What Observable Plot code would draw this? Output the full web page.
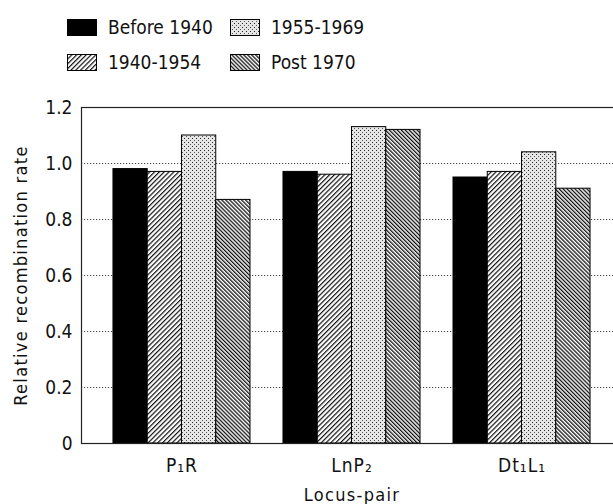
<!DOCTYPE html>
<html>
<head>
<meta charset="utf-8">
<script src="https://cdn.jsdelivr.net/npm/d3@7"></script>
<script src="https://cdn.jsdelivr.net/npm/@observablehq/plot@0.6"></script>
<style>
  html, body { margin: 0; padding: 0; background: #fff; overflow: hidden; }
  #legend { position: relative; height: 90px; width: 613px; font-family: "Liberation Sans Narrow", "DejaVu Sans Condensed", sans-serif; font-size: 19px; color: #111; }
  .item { position: absolute; display: flex; align-items: center; }
  .item svg { margin-right: 11px; }
  #chart g[aria-label="text"] text { letter-spacing: 1.3px; }
  #chart g[aria-label^="x-axis"] text { letter-spacing: 1px; }
</style>
</head>
<body>
<svg width="0" height="0" style="position:absolute">
  <defs>
    <pattern id="hatchA" patternUnits="userSpaceOnUse" width="3.4" height="10" patternTransform="rotate(45)">
      <rect width="3.4" height="10" fill="#fff"></rect>
      <rect width="1.2" height="10" fill="#111"></rect>
    </pattern>
    <pattern id="hatchB" patternUnits="userSpaceOnUse" width="2.8" height="10" patternTransform="rotate(-45)">
      <rect width="2.8" height="10" fill="#fff"></rect>
      <rect width="1.3" height="10" fill="#111"></rect>
    </pattern>
    <pattern id="dots" patternUnits="userSpaceOnUse" width="4" height="4">
      <rect width="4" height="4" fill="#e6e6e6"></rect>
      <rect x="0" y="0" width="1" height="1" fill="#222"></rect>
      <rect x="2" y="2" width="1" height="1" fill="#555"></rect>
    </pattern>
  </defs>
</svg>
<div id="legend"></div>
<div id="chart"></div>
<script>
// ---- data ----
const loci = ["P\u2081R", "LnP\u2082", "Dt\u2081L\u2081"];
const periods = ["Before 1940", "1940-1954", "1955-1969", "Post 1970"];
const before1940 = [0.98, 0.97, 0.95];
const p1940to1954 = [0.97, 0.96, 0.97];
const p1955to1969 = [1.10, 1.13, 1.04];
const post1970 = [0.87, 1.12, 0.91];
const yTicks = [0, 0.2, 0.4, 0.6, 0.8, 1.0, 1.2];
const yLabel = "Relative recombination rate";
const xLabel = "Locus-pair";

const seriesValues = [before1940, p1940to1954, p1955to1969, post1970];
const fills = ["#000", "url(#hatchA)", "url(#dots)", "url(#hatchB)"];

const rows = [];
periods.forEach((p, i) => loci.forEach((l, j) => rows.push({locus: l, period: p, value: seriesValues[i][j]})));

// ---- legend (column-major, 2 rows) ----
const legend = document.getElementById("legend");
periods.forEach((p, i) => {
  const col = Math.floor(i / 2), row = i % 2;
  const item = document.createElement("div");
  item.className = "item";
  item.style.left = (67 + col * 163) + "px";
  item.style.top = (16 + row * 35) + "px";
  item.innerHTML = `<svg width="30" height="17"><rect x="0.5" y="0.5" width="29" height="16" fill="${fills[i]}" stroke="#000" stroke-width="1"></rect></svg><span>${p}</span>`;
  legend.appendChild(item);
});

// ---- chart ----
const width = 613, height = 414;
const marginLeft = 81, marginRight = -9, marginTop = 17, marginBottom = 61;
const paddingInner = 0.194, paddingOuter = 0.188;
const rangeW = width - marginRight - marginLeft;
const bw = rangeW / (loci.length - paddingInner + 2 * paddingOuter) * (1 - paddingInner);
const q = bw / periods.length;

const bars = periods.map((p, i) => Plot.barY(rows.filter(d => d.period === p), {
  x: "locus", y: "value", fill: fills[i], stroke: "#000", strokeWidth: 1,
  insetLeft: i * q, insetRight: (periods.length - 1 - i) * q
}));

const chart = Plot.plot({
  width, height, marginLeft, marginRight, marginTop, marginBottom,
  style: {fontFamily: "'Liberation Sans Narrow', 'DejaVu Sans Condensed', sans-serif", fontSize: "19px", color: "#111", background: "#fff"},
  x: {domain: loci, paddingInner, paddingOuter, round: false, tickSize: 0, tickPadding: 15, label: null},
  y: {domain: [0, 1.2], ticks: yTicks, tickFormat: d => d === 0 ? "0" : d3.format(".1f")(d), tickSize: 0, tickPadding: 9, label: null},
  marks: [
    Plot.ruleY(yTicks.filter(t => t > 0 && t < 1.2), {stroke: "#444", strokeDasharray: "1.2,1.8", strokeWidth: 1}),
    ...bars,
    Plot.frame({stroke: "#222", strokeWidth: 1.2}),
    Plot.text([yLabel], {text: d => d, frameAnchor: "left", textAnchor: "middle", rotate: -90, dx: -60, fontSize: 18, fill: "#111"}),
    Plot.text([xLabel], {text: d => d, frameAnchor: "bottom", textAnchor: "middle", lineAnchor: "bottom", dy: 57, fontSize: 18, fill: "#111"})
  ]
});
document.getElementById("chart").appendChild(chart);
</script>
</body>
</html>
